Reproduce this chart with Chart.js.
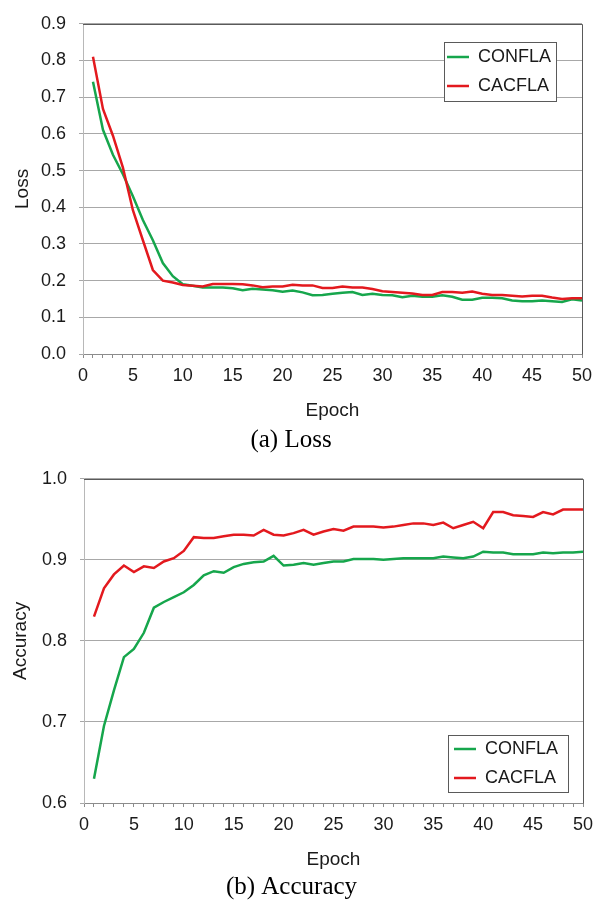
<!DOCTYPE html>
<html><head><meta charset="utf-8">
<script src="https://cdn.jsdelivr.net/npm/chart.js@4.4.0/dist/chart.umd.min.js"></script>
<style>
html,body{margin:0;padding:0;background:#fff;overflow:hidden;width:602px;height:900px}
.wrap{position:absolute;left:0;width:602px}
#w1{top:0;height:455px}
#w2{top:455px;height:445px}
canvas{display:block}
</style></head><body>
<div class="wrap" id="w1"><canvas id="c1" width="602" height="455"></canvas></div>
<div class="wrap" id="w2"><canvas id="c2" width="602" height="445"></canvas></div>
<script>
const epochs = [1,2,3,4,5,6,7,8,9,10,11,12,13,14,15,16,17,18,19,20,21,22,23,24,25,26,27,28,29,30,31,32,33,34,35,36,37,38,39,40,41,42,43,44,45,46,47,48,49,50];
const seriesNames = ['CONFLA', 'CACFLA'];
const lossCONFLA = [0.742,0.611,0.543,0.49,0.43,0.365,0.31,0.248,0.212,0.19,0.186,0.181,0.181,0.181,0.179,0.174,0.178,0.176,0.174,0.17,0.173,0.168,0.16,0.161,0.164,0.167,0.169,0.161,0.164,0.161,0.16,0.155,0.159,0.156,0.156,0.16,0.156,0.148,0.148,0.153,0.153,0.152,0.146,0.144,0.144,0.146,0.144,0.142,0.149,0.146];
const lossCACFLA = [0.81,0.668,0.595,0.508,0.392,0.31,0.229,0.2,0.195,0.188,0.186,0.184,0.191,0.191,0.191,0.19,0.187,0.182,0.184,0.184,0.189,0.187,0.187,0.18,0.18,0.184,0.181,0.181,0.177,0.171,0.169,0.167,0.165,0.161,0.161,0.169,0.169,0.167,0.17,0.164,0.161,0.161,0.159,0.157,0.159,0.159,0.154,0.15,0.152,0.152];
const accCONFLA = [0.63,0.695,0.739,0.78,0.79,0.81,0.841,0.848,0.854,0.86,0.869,0.881,0.886,0.884,0.891,0.895,0.897,0.898,0.905,0.893,0.894,0.896,0.894,0.896,0.898,0.898,0.901,0.901,0.901,0.9,0.901,0.902,0.902,0.902,0.902,0.904,0.903,0.902,0.904,0.91,0.909,0.909,0.907,0.907,0.907,0.909,0.908,0.909,0.909,0.91];
const accCACFLA = [0.83,0.865,0.882,0.893,0.885,0.892,0.89,0.898,0.902,0.911,0.928,0.927,0.927,0.929,0.931,0.931,0.93,0.937,0.931,0.93,0.933,0.937,0.931,0.935,0.938,0.936,0.941,0.941,0.941,0.94,0.941,0.943,0.945,0.945,0.943,0.946,0.939,0.943,0.947,0.939,0.959,0.959,0.955,0.954,0.953,0.959,0.956,0.962,0.962,0.962];
const xTickLabels = [0,5,10,15,20,25,30,35,40,45,50];
const lossTickLabels = ['0.0','0.1','0.2','0.3','0.4','0.5','0.6','0.7','0.8','0.9'];
const accTickLabels = ['0.6','0.7','0.8','0.9','1.0'];

const SANS = "'Liberation Sans', Arial, sans-serif";
const SERIF = "'Liberation Serif', 'Times New Roman', serif";
const GREEN = '#16a64c';
const RED = '#e3191e';
const TXT = '#1a1a1a';

const framePlugin = {
  id: 'frame',
  afterLayout(chart, args, o) {
    const lg = chart.legend;
    if (!lg) return;
    lg.left = o.lx; lg.top = o.ly; lg.width = 170; lg.height = 90;
    lg.right = lg.left + lg.width; lg.bottom = lg.top + lg.height;
    lg._frameBox = [o.bx, o.by, o.bw, o.bh];
    if (!lg._framed) {
      const orig = lg.draw;
      lg.draw = function(area) {
        const ctx = this.ctx, b = this._frameBox;
        ctx.save();
        ctx.fillStyle = '#fff';
        ctx.fillRect(b[0], b[1], b[2], b[3]);
        ctx.strokeStyle = '#5a5a5a';
        ctx.lineWidth = 1;
        ctx.strokeRect(b[0] + 0.5, b[1] + 0.5, b[2], b[3]);
        ctx.restore();
        orig.call(this, area);
      };
      lg._framed = true;
    }
  },
  beforeDatasetsDraw(chart) {
    const {ctx, chartArea: a} = chart;
    ctx.save();
    ctx.strokeStyle = '#5a5a5a';
    ctx.lineWidth = 1;
    ctx.beginPath();
    const t = Math.round(a.top) + 0.5, r = Math.round(a.right) + 0.5;
    ctx.moveTo(Math.round(a.left), t);
    ctx.lineTo(r, t);
    ctx.lineTo(r, Math.round(a.bottom) + 0.5);
    ctx.stroke();
    ctx.restore();
  }
};

function makeChart(id, p) {
  const ds = (name, vals, color, order) => ({
    label: name,
    data: epochs.map((e, i) => ({x: e, y: vals[i]})),
    borderColor: color, backgroundColor: color,
    borderWidth: 2.5, pointRadius: 0, tension: 0, fill: false, order
  });
  return new Chart(document.getElementById(id), {
    type: 'line',
    data: { datasets: [ds(seriesNames[0], p.a, GREEN, 1), ds(seriesNames[1], p.b, RED, 0)] },
    options: {
      responsive: false, animation: false, events: [],
      layout: { padding: p.pad },
      scales: {
        x: {
          type: 'linear', min: 0, max: 50,
          afterFit(s) { s.height = p.xh; },
          grid: { drawOnChartArea: false, drawTicks: true, tickLength: 4, color: '#8c8c8c' },
          border: { display: true, color: '#8c8c8c', width: 1 },
          ticks: { stepSize: 1, autoSkip: false, maxRotation: 0, minRotation: 0, padding: 7,
            color: TXT, font: {family: SANS, size: 18},
            callback: v => xTickLabels.includes(v) ? String(v) : '' },
          title: { display: true, text: 'Epoch', color: TXT, font: {family: SANS, size: 19},
            padding: {top: 0, bottom: p.xtp} }
        },
        y: {
          type: 'linear', min: p.ymin, max: p.ymax,
          afterFit(s) { s.width = p.yw; },
          grid: { color: '#a8a8a8', lineWidth: 1, drawTicks: true, tickLength: 4 },
          border: { display: true, color: '#b8b8b8', width: 1 },
          ticks: { stepSize: 0.1, padding: 13, color: TXT, font: {family: SANS, size: 18},
            callback: (v) => { const s = v.toFixed(1); return p.yt.includes(s) ? s : ''; } },
          title: { display: true, text: p.ytitle, color: TXT, font: {family: SANS, size: 19},
            padding: {top: p.ytp, bottom: 0} }
        }
      },
      plugins: {
        tooltip: { enabled: false },
        title: { display: true, position: 'bottom', text: p.caption, color: '#000',
          font: {family: SERIF, size: 25, weight: 'normal', lineHeight: 1}, padding: 0 },
        legend: { display: true, position: 'chartArea', align: 'start',
          labels: { usePointStyle: true, pointStyle: 'line', pointStyleWidth: 22, boxHeight: 18,
            padding: 11, color: TXT, font: {family: SANS, size: 18},
            sort: (a, b) => a.datasetIndex - b.datasetIndex } },
        frame: p.frame
      }
    },
    plugins: [framePlugin]
  });
}

makeChart('c1', {
  a: lossCONFLA, b: lossCACFLA, ymin: 0, ymax: 0.9, yt: lossTickLabels,
  ytitle: 'Loss', caption: '(a) Loss',
  pad: {top: 20, right: 20, bottom: 2.5, left: 0}, yw: 83, xh: 73.5, xtp: 5, ytp: 11,
  frame: {lx: 436, ly: 37, bx: 444, by: 42, bw: 112, bh: 59}
});
makeChart('c2', {
  a: accCONFLA, b: accCACFLA, ymin: 0.6, ymax: 1.0, yt: accTickLabels,
  ytitle: 'Accuracy', caption: '(b) Accuracy',
  pad: {top: 14, right: 19, bottom: 0.5, left: 0}, yw: 84, xh: 71.5, xtp: 3.4, ytp: 9,
  frame: {lx: 443, ly: 274, bx: 448, by: 280, bw: 120, bh: 57}
});
</script>
</body></html>
